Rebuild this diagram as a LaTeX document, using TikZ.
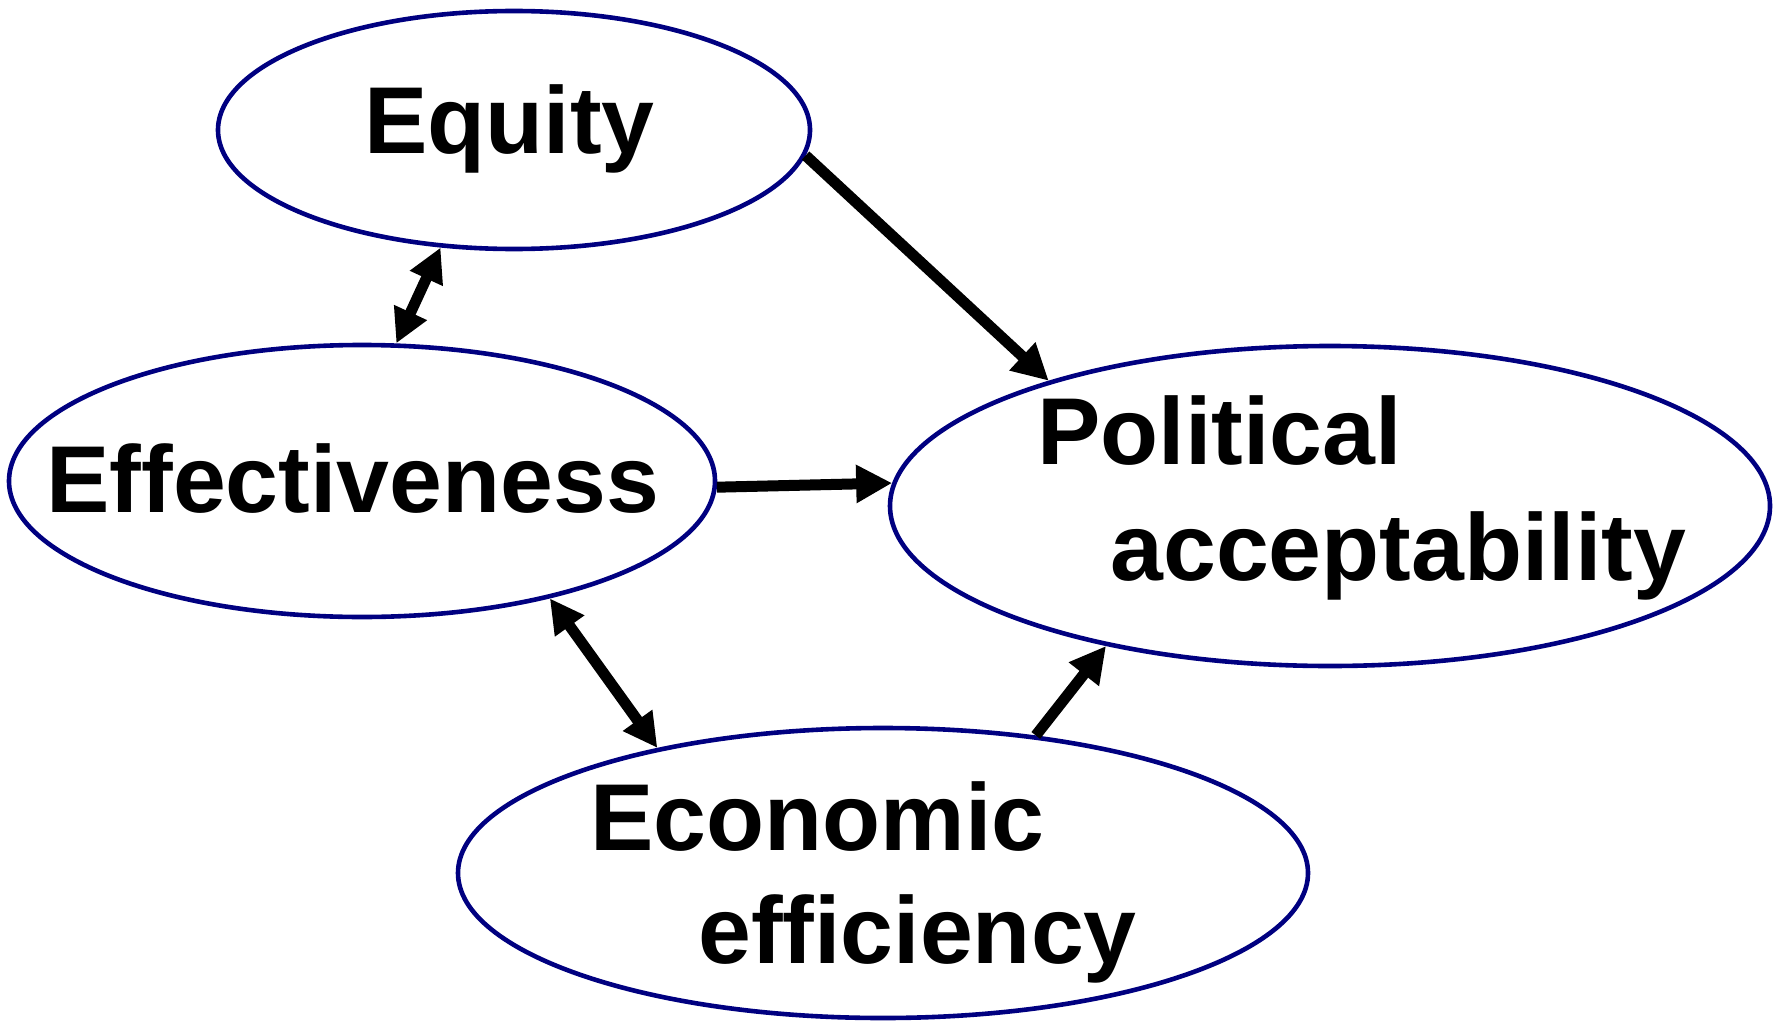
\documentclass[tikz,border=0pt]{standalone}
\usepackage{fontspec}
\setmainfont{Liberation Sans}
\usetikzlibrary{shapes.geometric,arrows.meta}
\definecolor{ellblue}{RGB}{0,0,128}
\begin{document}
\begin{tikzpicture}[x=0.5pt,y=-0.5pt,
  oval/.style={ellipse,draw=ellblue,line width=2.3pt,inner sep=0pt},
  lbl/.style={anchor=base west,inner sep=0pt,font=\bfseries\fontsize{47.5}{57}\selectfont},
  conn/.style={line width=5.5pt,-{Triangle[length=18pt,width=18pt]}},
  dconn/.style={line width=5.5pt,{Triangle[length=17pt,width=17pt]}-{Triangle[length=17pt,width=17pt]}}]
\useasboundingbox (0,0) rectangle (1776,1022);
\node[oval,minimum width=296pt,minimum height=119pt] (eq) at (514,130) {};
\node[oval,minimum width=353pt,minimum height=136pt] (eff) at (362,481) {};
\node[oval,minimum width=440pt,minimum height=160pt] (pol) at (1330,506) {};
\node[oval,minimum width=425pt,minimum height=145pt] (eco) at (883,873) {};
\node[lbl] (teq) at (364,153) {Equity};
\node[lbl] (teff) at (46,512) {Effectiveness};
\node[lbl] (tpol1) at (1037,464) {Political};
\node[lbl] (tpol2) at (1110,580) {acceptability};
\node[lbl] (teco1) at (590,850) {Economic};
\node[lbl] (teco2) at (698,963) {efficiency};
\draw[dconn] (eq.238.9) -- (eff.76.9);
\draw[conn] (eq.-5) -- (pol.156.3);
\draw[conn] (eff.-1.8) -- (pol.177.7);
\draw[dconn] (eff.-32.4) -- (eco.151.5);
\draw[conn] (eco.42.3) -- (pol.212);
\end{tikzpicture}
\end{document}
